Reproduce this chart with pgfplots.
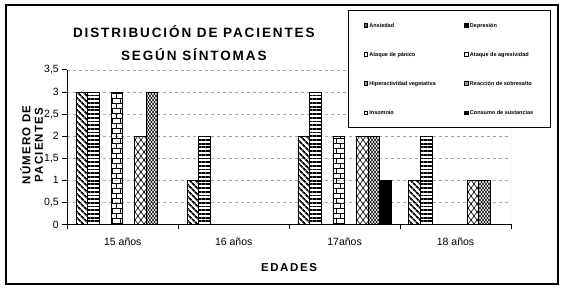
\documentclass[border=0pt]{standalone}
\usepackage{fontspec}
\setmainfont{Liberation Sans}
\newfontfamily\spacedfont[LetterSpace=14]{Liberation Sans}
\newfontfamily\ylabfont[LetterSpace=10]{Liberation Sans}
\usepackage{pgfplots}
\pgfplotsset{compat=1.18}
\usetikzlibrary{patterns,patterns.meta}

\pgfdeclarepatternformonly{mybricks}{\pgfqpoint{-1pt}{-1pt}}{\pgfqpoint{9pt}{11pt}}{\pgfqpoint{8pt}{10pt}}{%
  \pgfsetlinewidth{0.8pt}%
  \pgfpathmoveto{\pgfqpoint{-1pt}{0pt}}\pgfpathlineto{\pgfqpoint{9pt}{0pt}}%
  \pgfpathmoveto{\pgfqpoint{-1pt}{5pt}}\pgfpathlineto{\pgfqpoint{9pt}{5pt}}%
  \pgfpathmoveto{\pgfqpoint{4pt}{0pt}}\pgfpathlineto{\pgfqpoint{4pt}{5pt}}%
  \pgfpathmoveto{\pgfqpoint{0pt}{5pt}}\pgfpathlineto{\pgfqpoint{0pt}{10pt}}%
  \pgfpathmoveto{\pgfqpoint{8pt}{5pt}}\pgfpathlineto{\pgfqpoint{8pt}{10pt}}%
  \pgfusepath{stroke}}

\pgfdeclarepatternformonly{mywave}{\pgfqpoint{-1pt}{-1pt}}{\pgfqpoint{7pt}{9pt}}{\pgfqpoint{6pt}{8pt}}{%
  \pgfsetlinewidth{0.6pt}%
  \pgfpathmoveto{\pgfqpoint{0pt}{0pt}}%
  \pgfpathcurveto{\pgfqpoint{2pt}{1pt}}{\pgfqpoint{1pt}{3pt}}{\pgfqpoint{3pt}{4pt}}%
  \pgfpathcurveto{\pgfqpoint{5pt}{5pt}}{\pgfqpoint{4pt}{7pt}}{\pgfqpoint{6pt}{8pt}}%
  \pgfpathmoveto{\pgfqpoint{6pt}{0pt}}%
  \pgfpathcurveto{\pgfqpoint{4pt}{1pt}}{\pgfqpoint{5pt}{3pt}}{\pgfqpoint{3pt}{4pt}}%
  \pgfpathcurveto{\pgfqpoint{1pt}{5pt}}{\pgfqpoint{2pt}{7pt}}{\pgfqpoint{0pt}{8pt}}%
  \pgfusepath{stroke}}

\pgfdeclarepatternformonly{mysmallwave}{\pgfqpoint{-1pt}{-1pt}}{\pgfqpoint{4pt}{5pt}}{\pgfqpoint{3pt}{4pt}}{%
  \pgfsetlinewidth{0.5pt}%
  \pgfpathmoveto{\pgfqpoint{0pt}{0pt}}%
  \pgfpathcurveto{\pgfqpoint{1pt}{0.5pt}}{\pgfqpoint{0.5pt}{1.5pt}}{\pgfqpoint{1.5pt}{2pt}}%
  \pgfpathcurveto{\pgfqpoint{2.5pt}{2.5pt}}{\pgfqpoint{2pt}{3.5pt}}{\pgfqpoint{3pt}{4pt}}%
  \pgfpathmoveto{\pgfqpoint{3pt}{0pt}}%
  \pgfpathcurveto{\pgfqpoint{2pt}{0.5pt}}{\pgfqpoint{2.5pt}{1.5pt}}{\pgfqpoint{1.5pt}{2pt}}%
  \pgfpathcurveto{\pgfqpoint{0.5pt}{2.5pt}}{\pgfqpoint{1pt}{3.5pt}}{\pgfqpoint{0pt}{4pt}}%
  \pgfusepath{stroke}}

\begin{document}
\begin{tikzpicture}
\useasboundingbox (-67.3pt,-63.5pt) rectangle (496.7pt,224.5pt);
\draw[line width=1.2pt] (-61.3pt,-59.5pt) rectangle (490.7pt,219.5pt);
\node[font=\spacedfont\bfseries\fontsize{13.5}{15}\selectfont] at (126.5pt,192.5pt) {DISTRIBUCIÓN DE PACIENTES};
\node[font=\spacedfont\bfseries\fontsize{13.5}{15}\selectfont] at (126.5pt,169.5pt) {SEGÚN SÍNTOMAS};
\node[rotate=90, align=center, font=\ylabfont\bfseries\fontsize{11.5}{12.5}\selectfont] at (-35.8pt,79.5pt) {NÚMERO DE\\PACIENTES};
\node[font=\spacedfont\bfseries\fontsize{11.5}{13}\selectfont] at (221.7pt,-43.5pt) {EDADES};
\begin{axis}[
  at={(0pt,0pt)}, anchor=south west, scale only axis,
  width=443.7pt, height=154.5pt,
  xmin=-0.5, xmax=3.5, ymin=0, ymax=3.5,
  axis x line=bottom, axis y line=left,
  axis line style={line width=1pt, -},
  xtick={-0.5,0.5,1.5,2.5,3.5}, xticklabels={},
  extra x ticks={0,1,2,3},
  extra x tick labels={15 años,16 años,17años,18 años},
  extra x tick style={major tick length=0pt, xticklabel style={yshift=-10pt}},
  ytick={0,0.5,1,1.5,2,2.5,3,3.5},
  tick align=outside, major tick length=5pt,
  tick style={black, line width=1pt},
  ymajorgrids,
  grid style={black!35, line width=0.8pt, dash pattern=on 3pt off 3pt},
  /pgf/number format/assume math mode=true,
  yticklabel style={/pgf/number format/.cd, use comma, fixed, precision=1},
  ticklabel style={font=\fontsize{10.5}{12}\selectfont},
  bar width=11.67pt,
  legend columns=2,
  legend image code/.code={\draw[line width=0.6pt,#1] (0pt,-1.75pt) rectangle (3.5pt,1.75pt);},
  legend style={at={(0.6333,1.3864)}, anchor=north west, draw=black, line width=1pt, fill=white,
    font=\bfseries\fontsize{5.5}{6}\selectfont, inner xsep=15pt, inner ysep=12.4pt,
    row sep=25pt, column sep=1.5pt, nodes={inner sep=0pt, text depth=0pt}, cells={anchor=west}},
]
% Ansiedad
\addplot[ybar, forget plot, bar shift=-40.85pt, draw=black, line width=0.8pt,
  pattern={Lines[angle=-45, distance=4pt, line width=1.8pt]}]
  coordinates {(0,3) (1,1) (2,2) (3,1)};
% Depresion
\addplot[ybar, forget plot, bar shift=-29.18pt, draw=black, line width=0.8pt,
  pattern={Lines[angle=0, distance=3.7pt, line width=1.8pt]}]
  coordinates {(0,3) (1,2) (2,3) (3,2)};
% Ataque de agresividad
\addplot[ybar, forget plot, bar shift=-5.84pt, draw=black, line width=0.8pt,
  pattern=mybricks]
  coordinates {(0,3) (2,2)};
% Reaccion de sobresalto
\addplot[ybar, forget plot, bar shift=17.51pt, draw=black, line width=0.8pt,
  pattern=mywave]
  coordinates {(0,2) (2,2) (3,1)};
% Insomnio
\addplot[ybar, forget plot, bar shift=29.18pt, draw=black, line width=0.8pt,
  pattern=mysmallwave]
  coordinates {(0,3) (2,2) (3,1)};
% Consumo de sustancias
\addplot[ybar, forget plot, bar shift=40.85pt, draw=black, line width=0.8pt,
  fill=black]
  coordinates {(2,1)};
\draw[black!35, line width=0.8pt, dash pattern=on 3pt off 3pt] (rel axis cs:1,0) -- (rel axis cs:1,1);
\addlegendimage{fill=black!65}
\addlegendentry{\makebox[93.5pt][l]{Ansiedad}}
\addlegendimage{fill=black}
\addlegendentry{\makebox[65pt][l]{Depresión}}
\addlegendimage{fill=white}
\addlegendentry{\makebox[93.5pt][l]{Ataque de pánico}}
\addlegendimage{fill=white}
\addlegendentry{\makebox[65pt][l]{Ataque de agresividad}}
\addlegendimage{fill=black!40}
\addlegendentry{\makebox[93.5pt][l]{Hiperactividad vegetativa}}
\addlegendimage{fill=black!40}
\addlegendentry{\makebox[65pt][l]{Reacción de sobresalto}}
\addlegendimage{fill=white}
\addlegendentry{\makebox[93.5pt][l]{Insomnio}}
\addlegendimage{fill=black}
\addlegendentry{\makebox[65pt][l]{Consumo de sustancias}}
\end{axis}
\end{tikzpicture}
\end{document}
